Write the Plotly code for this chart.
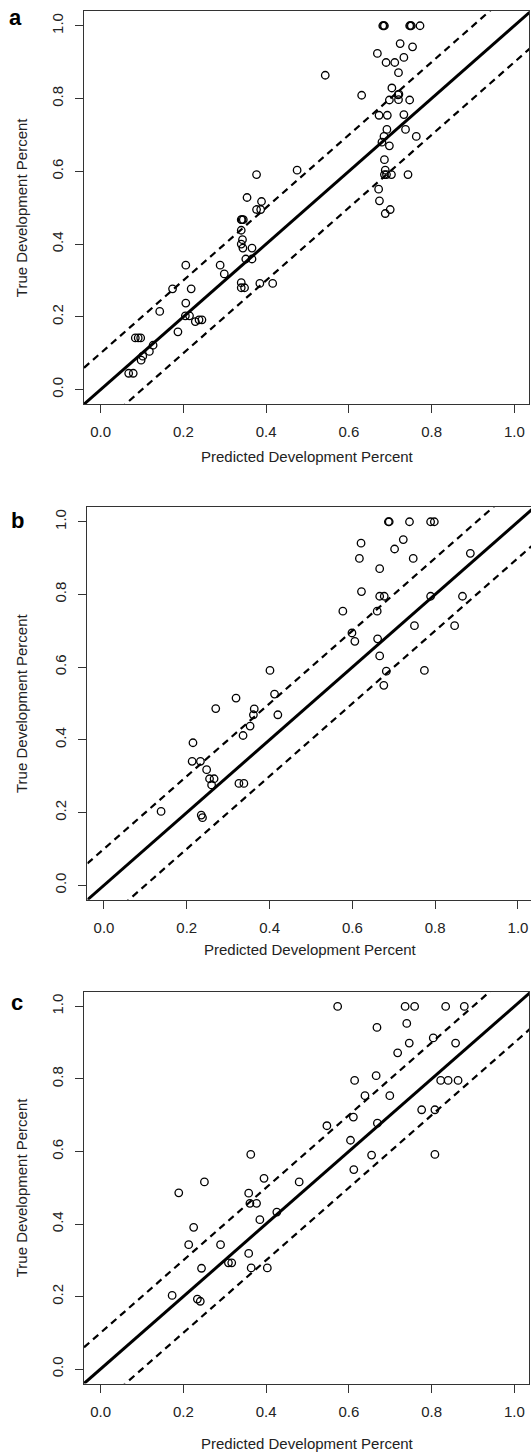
import numpy as np
import plotly.graph_objects as go

# ---------------- data ----------------
A_PRED = [0.682, 0.684, 0.686, 0.747, 0.749, 0.751, 0.772, 0.724, 0.754, 0.669, 0.690, 0.711,
          0.733, 0.720, 0.543, 0.631, 0.704, 0.719, 0.721, 0.698, 0.720, 0.747, 0.673, 0.693,
          0.733, 0.692, 0.737, 0.685, 0.763, 0.680, 0.698, 0.686, 0.688, 0.686, 0.691, 0.703,
          0.743, 0.475, 0.377, 0.672, 0.354, 0.389, 0.674, 0.688, 0.700, 0.377, 0.387, 0.340,
          0.342, 0.345, 0.340, 0.343, 0.340, 0.344, 0.366, 0.351, 0.366, 0.206, 0.289, 0.299,
          0.174, 0.219, 0.340, 0.340, 0.348, 0.385, 0.416, 0.143, 0.206, 0.205, 0.215, 0.187,
          0.229, 0.238, 0.245, 0.084, 0.091, 0.097, 0.098, 0.102, 0.118, 0.127, 0.068, 0.079]
A_TRUE = [1.000, 1.000, 1.000, 1.000, 1.000, 1.000, 1.000, 0.951, 0.942, 0.924, 0.899, 0.899,
          0.913, 0.871, 0.864, 0.809, 0.829, 0.810, 0.812, 0.796, 0.797, 0.796, 0.754, 0.754,
          0.756, 0.715, 0.715, 0.696, 0.696, 0.680, 0.670, 0.632, 0.603, 0.591, 0.591, 0.591,
          0.591, 0.603, 0.591, 0.551, 0.528, 0.517, 0.519, 0.484, 0.495, 0.495, 0.495, 0.467,
          0.467, 0.467, 0.438, 0.412, 0.400, 0.389, 0.389, 0.359, 0.359, 0.342, 0.342, 0.318,
          0.277, 0.277, 0.294, 0.280, 0.280, 0.292, 0.292, 0.215, 0.238, 0.203, 0.203, 0.159,
          0.187, 0.192, 0.192, 0.142, 0.142, 0.142, 0.081, 0.092, 0.105, 0.122, 0.045, 0.045]

B_PRED = [0.687, 0.689, 0.738, 0.789, 0.798, 0.621, 0.723, 0.702, 0.617, 0.747, 0.885, 0.666,
          0.622, 0.666, 0.677, 0.789, 0.866, 0.577, 0.660, 0.750, 0.847, 0.599, 0.606, 0.661,
          0.666, 0.401, 0.682, 0.774, 0.676, 0.412, 0.319, 0.270, 0.363, 0.361, 0.420, 0.353,
          0.336, 0.215, 0.213, 0.233, 0.248, 0.255, 0.266, 0.260, 0.326, 0.338, 0.138, 0.235,
          0.238]
B_TRUE = [1.000, 1.000, 1.000, 1.000, 1.000, 0.941, 0.951, 0.925, 0.899, 0.899, 0.913, 0.871,
          0.808, 0.795, 0.795, 0.795, 0.795, 0.754, 0.754, 0.714, 0.714, 0.694, 0.671, 0.678,
          0.631, 0.591, 0.589, 0.591, 0.550, 0.526, 0.515, 0.486, 0.485, 0.469, 0.469, 0.438,
          0.412, 0.392, 0.341, 0.341, 0.318, 0.293, 0.293, 0.276, 0.280, 0.280, 0.203, 0.193,
          0.186]

C_PRED = [0.573, 0.736, 0.759, 0.834, 0.879, 0.740, 0.668, 0.804, 0.746, 0.858, 0.718, 0.666,
          0.614, 0.822, 0.840, 0.864, 0.639, 0.699, 0.776, 0.808, 0.611, 0.547, 0.669, 0.604,
          0.363, 0.655, 0.808, 0.612, 0.395, 0.251, 0.480, 0.189, 0.358, 0.361, 0.377, 0.426,
          0.385, 0.225, 0.213, 0.290, 0.358, 0.309, 0.317, 0.244, 0.364, 0.403, 0.173, 0.234,
          0.241]
C_TRUE = [1.000, 1.000, 1.000, 1.000, 1.000, 0.953, 0.942, 0.913, 0.899, 0.899, 0.872, 0.809,
          0.796, 0.796, 0.796, 0.796, 0.754, 0.754, 0.715, 0.715, 0.695, 0.671, 0.678, 0.631,
          0.592, 0.590, 0.592, 0.550, 0.526, 0.516, 0.516, 0.486, 0.485, 0.457, 0.457, 0.433,
          0.412, 0.391, 0.343, 0.343, 0.319, 0.293, 0.293, 0.278, 0.279, 0.279, 0.203, 0.193,
          0.187]

PANELS = ["a", "b", "c"]
TICK_VALUES = [0.0, 0.2, 0.4, 0.6, 0.8, 1.0]
TICK_LABELS = ["0.0", "0.2", "0.4", "0.6", "0.8", "1.0"]
BAND = 0.1
X_TITLE = "Predicted Development Percent"
Y_TITLE = "True Development Percent"

# ---------------- layout / style ----------------
W, H = 531, 1454
FONT = "Liberation Sans, Arial, Helvetica, sans-serif"
AX_COL = "#333333"

# pixel boxes (left, right, top, bottom) and x-range upper limit per panel
BOXES = [
    dict(l=84.0, r=529.0, t=11.2, b=404.2, xmax=1.0354, title_y=456.0, lab=(15.5, 18.0)),
    dict(l=87.4, r=531.0, t=507.2, b=899.8, xmax=1.0315, title_y=949.5, lab=(17.0, 521.0)),
    dict(l=84.0, r=529.0, t=991.9, b=1383.6, xmax=1.0354, title_y=1443.5, lab=(17.0, 1002.0)),
]

series = [(A_PRED, A_TRUE), (B_PRED, B_TRUE), (C_PRED, C_TRUE)]

fig = go.Figure()
annotations = []

for i, (box, (px, ty), name) in enumerate(zip(BOXES, series, PANELS)):
    sfx = "" if i == 0 else str(i + 1)
    xa, ya = "x" + sfx, "y" + sfx
    xr = [-0.04, box["xmax"]]
    yr = [-0.04, 1.04]

    lx = np.linspace(-0.04, 1.04, 2)
    # identity line and +/- band lines
    fig.add_trace(go.Scatter(x=lx, y=lx, mode="lines", xaxis=xa, yaxis=ya,
                             line=dict(color="black", width=3), showlegend=False,
                             hoverinfo="skip"))
    for off in (BAND, -BAND):
        fig.add_trace(go.Scatter(x=lx, y=lx + off, mode="lines", xaxis=xa, yaxis=ya,
                                 line=dict(color="black", width=2.2, dash="7px,5px"),
                                 showlegend=False, hoverinfo="skip"))
    fig.add_trace(go.Scatter(x=px, y=ty, mode="markers", xaxis=xa, yaxis=ya,
                             marker=dict(symbol="circle-open", size=7.5, color="black",
                                         line=dict(width=1.3, color="black")),
                             showlegend=False, cliponaxis=False))

    axis_common = dict(
        showgrid=False, zeroline=False, showline=True, mirror=True,
        linecolor=AX_COL, linewidth=1,
        ticks="outside", ticklen=8, tickcolor=AX_COL, tickwidth=1,
        tickvals=TICK_VALUES, ticktext=TICK_LABELS,
        tickfont=dict(family=FONT, size=15, color="#222222"),
    )
    fig.layout["xaxis" + sfx] = dict(
        axis_common, domain=[box["l"] / W, box["r"] / W], range=xr,
        anchor=ya, ticklabelstandoff=6)
    fig.layout["yaxis" + sfx] = dict(
        axis_common, domain=[1 - box["b"] / H, 1 - box["t"] / H], range=yr,
        anchor=xa, tickangle=-90, ticklabelstandoff=6)

    # x-axis title
    x_center = box["l"] + (0.5 + 0.04) / (box["xmax"] + 0.04) * (box["r"] - box["l"])
    annotations.append(dict(text=X_TITLE, xref="paper", yref="paper",
                            x=x_center / W, y=1 - box["title_y"] / H,
                            xanchor="center", yanchor="middle", showarrow=False,
                            font=dict(family=FONT, size=15, color="#222222")))
    # y-axis title
    y_center = (box["t"] + box["b"]) / 2
    annotations.append(dict(text=Y_TITLE, xref="paper", yref="paper",
                            x=21.5 / W, y=1 - y_center / H, textangle=-90,
                            xanchor="center", yanchor="middle", showarrow=False,
                            font=dict(family=FONT, size=15, color="#222222")))
    # panel letter
    annotations.append(dict(text="<b>" + name + "</b>", xref="paper", yref="paper",
                            x=box["lab"][0] / W, y=1 - box["lab"][1] / H,
                            xanchor="center", yanchor="middle", showarrow=False,
                            font=dict(family=FONT, size=22, color="black")))

fig.update_layout(width=W, height=H, margin=dict(l=0, r=0, t=0, b=0),
                  paper_bgcolor="white", plot_bgcolor="white",
                  annotations=annotations, showlegend=False)

fig.write_html("out.html")
